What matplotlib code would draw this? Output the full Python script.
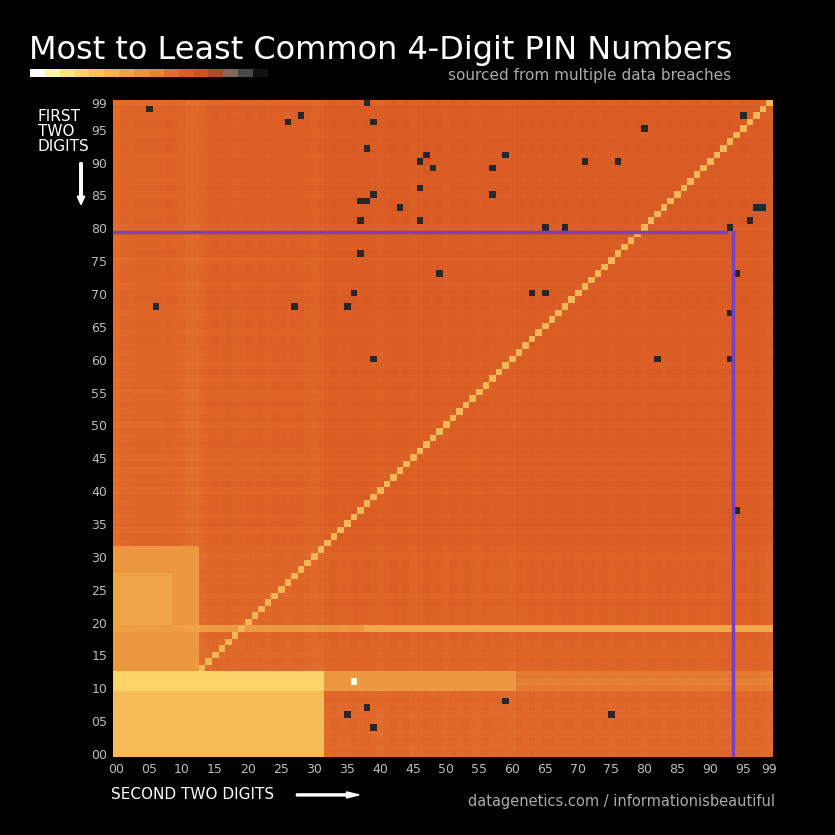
import numpy as np
import matplotlib.pyplot as plt
from matplotlib.colors import LinearSegmentedColormap

# rarity level of each PIN cell: 0 = most common (white), 1 = least common (black)
base_level = 0.66

# per-row (first two digits) and per-column (last two digits) adjustments, read by eye
row_offset = [
    -0.04, -0.05, -0.04, -0.05, -0.04, -0.04, -0.05, -0.04, -0.03, -0.04,
    -0.10, -0.12, -0.10, -0.03, -0.02, -0.03, -0.02, -0.02, -0.01, -0.20,
    -0.02, -0.01, -0.02, -0.01, -0.02, -0.01, -0.01, -0.02, -0.01, -0.01,
    -0.02, -0.01, 0.00, 0.01, -0.01, 0.01, 0.00, 0.01, 0.00, 0.01,
    -0.01, 0.01, 0.00, -0.01, 0.01, -0.01, 0.00, 0.01, 0.00, 0.01,
    -0.01, 0.01, 0.00, 0.01, 0.00, -0.01, 0.01, 0.00, 0.01, 0.00,
    0.01, 0.00, 0.01, 0.01, 0.00, 0.01, 0.01, 0.00, 0.01, 0.02,
    0.01, 0.00, 0.02, 0.01, 0.01, 0.00, 0.02, 0.01, 0.01, 0.02,
    0.00, 0.02, 0.01, 0.02, 0.02, 0.01, 0.02, 0.01, 0.02, 0.01,
    0.02, 0.01, 0.02, 0.02, 0.01, 0.02, 0.02, 0.01, 0.02, -0.01,
]
col_offset = [
    -0.06, -0.04, -0.04, -0.03, -0.03, -0.03, -0.03, -0.03, -0.02, -0.03,
    -0.04, -0.06, -0.06, -0.04, -0.02, -0.01, -0.02, -0.01, -0.02, -0.02,
    -0.01, -0.02, -0.01, -0.02, -0.01, -0.01, -0.02, -0.01, -0.01, -0.02,
    -0.03, -0.02, 0.00, 0.01, 0.00, 0.00, 0.01, 0.00, 0.01, 0.00,
    -0.01, 0.00, 0.01, 0.00, 0.01, -0.01, 0.00, 0.01, 0.00, 0.01,
    -0.01, 0.01, 0.00, 0.01, 0.00, -0.01, 0.01, 0.00, 0.00, 0.00,
    -0.01, 0.01, 0.00, 0.01, 0.00, 0.01, 0.01, 0.00, 0.01, 0.01,
    0.00, 0.01, 0.01, 0.00, 0.01, 0.00, 0.01, 0.01, 0.00, 0.01,
    0.00, 0.01, 0.01, 0.00, 0.01, 0.01, 0.00, 0.01, 0.01, 0.00,
    0.01, 0.00, 0.01, 0.01, 0.00, 0.01, 0.00, 0.01, 0.00, -0.01,
]
# light regions: (row_start, row_end, col_start, col_end, level)
light_blocks = [
    (0, 9, 0, 31, 0.30),
    (10, 12, 0, 31, 0.20),
    (10, 12, 32, 60, 0.45),
    (13, 31, 0, 12, 0.45),
    (20, 27, 0, 8, 0.40),
    (19, 19, 38, 99, 0.38),
    (11, 11, 36, 36, 0.02),
]
diagonal_level = 0.32
# rarest PINs: (second two digits, first two digits)
dark_cells = [
    (5, 98), (28, 97), (39, 96), (26, 96), (38, 99), (80, 95), (95, 97), (38, 92),
    (47, 91), (59, 91), (46, 90), (71, 90), (76, 90), (57, 89), (48, 89), (46, 86),
    (39, 85), (57, 85), (37, 84), (38, 84), (43, 83), (98, 83), (97, 83), (37, 81),
    (46, 81), (96, 81), (65, 80), (68, 80), (93, 80), (37, 76), (94, 73),
    (49, 73), (36, 70), (63, 70), (65, 70), (6, 68), (27, 68), (35, 68), (93, 67),
    (39, 60), (82, 60), (93, 60), (94, 37), (59, 8), (38, 7), (35, 6), (75, 6), (39, 4),
]
tick_vals = list(range(0, 100, 5)) + [99]

grid = base_level + np.array(row_offset)[:, None] + np.array(col_offset)[None, :]
for r0, r1, c0, c1, lvl in light_blocks:
    grid[r0:r1 + 1, c0:c1 + 1] = np.minimum(grid[r0:r1 + 1, c0:c1 + 1], lvl)
idx = np.arange(100)
grid[idx, idx] = np.minimum(grid[idx, idx], diagonal_level)
for c, r in dark_cells:
    grid[r, c] = 0.97

cmap = LinearSegmentedColormap.from_list("pin", [
    (0.0, "#ffffff"), (0.08, "#fff3a0"), (0.2, "#fbd56a"), (0.35, "#f2b04e"),
    (0.5, "#ea8d3a"), (0.62, "#e1692b"), (0.72, "#d65420"), (0.8, "#b04a2a"),
    (0.86, "#8a6a5a"), (0.92, "#555555"), (1.0, "#111111")])

fig = plt.figure(figsize=(8.35, 8.35), dpi=100, facecolor="black")
ax = fig.add_axes([0.135, 0.093, 0.79, 0.787])
ax.imshow(grid, cmap=cmap, vmin=0, vmax=1, origin="lower", aspect="auto",
          interpolation="nearest", extent=(-0.5, 99.5, -0.5, 99.5))
ax.plot([-0.5, 92.5], [79.5, 79.5], color="#7b3fc4", lw=2.5)
ax.plot([93.5, 93.5], [79.5, -0.5], color="#7b3fc4", lw=2.5)
ax.set_xlim(-0.5, 99.5)
ax.set_ylim(-0.5, 99.5)
ax.set_xticks(tick_vals, [f"{v:02d}" for v in tick_vals])
ax.set_yticks(tick_vals, [f"{v:02d}" for v in tick_vals])
ax.tick_params(colors="#bbbbbb", labelsize=9, length=0, pad=4)
for s in ax.spines.values():
    s.set_visible(False)

fig.text(0.035, 0.94, "Most to Least Common 4-Digit PIN Numbers", color="white",
         fontsize=23, ha="left", va="center")
fig.text(0.875, 0.91, "sourced from multiple data breaches", color="#aaaaaa",
         fontsize=11, ha="right", va="center")
leg = fig.add_axes([0.036, 0.908, 0.285, 0.009])
leg.imshow(np.linspace(0, 1, 16)[None, :], cmap=cmap, vmin=0, vmax=1, aspect="auto")
leg.axis("off")

fig.text(0.045, 0.87, "FIRST\nTWO\nDIGITS", color="white", fontsize=11,
         ha="left", va="top", linespacing=1.0)
fig.patches.append(plt.Arrow(0.097, 0.805, 0, -0.05, width=0.015, color="white",
                             transform=fig.transFigure, figure=fig))
fig.text(0.133, 0.048, "SECOND TWO DIGITS", color="white", fontsize=11, ha="left", va="center")
fig.patches.append(plt.Arrow(0.355, 0.048, 0.075, 0, width=0.012, color="white",
                             transform=fig.transFigure, figure=fig))
fig.text(0.928, 0.04, "datagenetics.com / informationisbeautiful", color="#aaaaaa",
         fontsize=10.5, ha="right", va="center")

fig.savefig("out.png", dpi=100, facecolor="black")
